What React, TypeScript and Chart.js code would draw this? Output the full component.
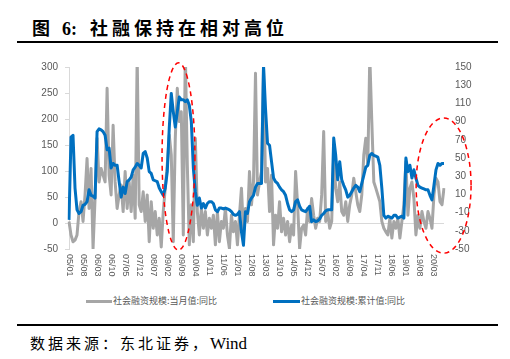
import React, { useEffect, useRef } from 'react';
import { Chart, registerables } from 'chart.js';

Chart.register(...registerables);

// Monthly categories 2005/01 .. 2020/08
const months: string[] = [];
for (let y = 2005; y <= 2020; y++) {
  for (let m = 1; m <= 12; m++) {
    if (y === 2020 && m > 8) break;
    months.push(`${String(y % 100).padStart(2, '0')}/${String(m).padStart(2, '0')}`);
  }
}

const xTickLabels = [
  '05/01', '05/08', '06/03', '06/10', '07/05', '07/12', '08/07', '09/02', '09/09',
  '10/04', '10/11', '11/06', '12/01', '12/08', '13/03', '13/10', '14/05', '14/12',
  '15/07', '16/02', '16/09', '17/04', '17/11', '18/06', '19/01', '19/08', '20/03',
];

// 社会融资规模:当月值:同比 (left axis)
const monthlyYoY = [
  3, -23, -36, -33, -23, 22, 41, 3, 54, 124, 28, 105,
  -49, 47, 163, 79, 105, 92, 79, 259, 92, 54, 188, 79,
  28, 54, 73, 22, 99, 28, 79, 22, 92, 9, 320, 35,
  22, 60, 3, 54, -36, 41, -10, 22, -23, 9, -46, 22,
  67, 112, 169, 131, -36, 163, 259, 195, 214, -23, 330, 112,
  -42, 35, -36, 163, 22, -23, 28, -10, 22, -23, 9, -10,
  15, -42, 22, -36, 3, -10, 28, -23, -49, 15, -17, 3,
  -42, 15, 67, -17, 28, 3, 99, 35, 79, 288, 54, 79,
  99, 300, 79, 105, 22, 92, -42, 15, -10, 41, -17, 9,
  -23, 3, -36, -4, -23, 99, 35, -49, -10, -4, -23, 28,
  3, 47, 15, -10, 9, 3, 54, 176, 3, 22, -10, 3,
  131, 67, 41, 79, 22, 15, 41, 3, 35, 54, 86, 60,
  35, 22, 54, 131, 163, 112, 320, 195, 79, 67, 54, 41,
  3, -10, -17, -23, 9, -29, 3, -10, 9, -29, 3, 35,
  118, 15, 67, 79, 47, -23, 15, -10, 22, 3, -10, 22,
  9, -10, 54, 86, 79, 41, 35, 67,
];

// 社会融资规模:累计值:同比 (right axis)
const cumulativeYoY = [
  -18, 73, 75, 17, -7, -11, -9, -2, -1, 2, 15, 9,
  8, 6, 79, 82, 81, 79, 75, 59, 61, 39, 44, 42,
  42, 24, 7, 18, 11, 24, 26, 29, 37, 40, 44, 42,
  39, 55, 57, 50, 35, 33, 26, 25, 24, 17, 13, 9,
  17, 35, 83, 121, 101, 84, 101, 117, 114, 114, 112, 114,
  108, 90, 39, 13, -2, 6, -5, 0, -5, 0, 2, 2,
  0, -7, -9, -5, -5, -6, -5, -6, -7, -9, -12, -13,
  -12, -9, -31, -46, -9, -11, 2, 6, 9, 18, 22, 22,
  22, 152, 104, 66, 64, 46, 28, 24, 22, 18, 15, 13,
  9, 0, -7, -9, -7, 2, 4, -3, -7, -8, -9, -6,
  -3, -20, -18, -20, -19, -17, -13, -11, -8, -7, -7, -7,
  72, 53, 26, 46, 26, 20, 15, 7, 9, 13, 17, 20,
  18, 13, 22, 31, 40, 42, 53, 55, 53, 52, 51, 42,
  17, -13, -16, -14, -15, -16, -13, -13, -16, -15, -14, -16,
  50, 35, 42, 28, 37, 28, 20, 18, 17, 16, 15, 15,
  9, 4, 20, 37, 44, 42, 44, 44,
];

const leftMin = -50, leftMax = 300, leftStep = 50;
const rightMin = -50, rightMax = 150, rightStep = 20;

// Highlight ellipses (month index centre / half width in months, left-axis top/bottom)
const highlights = [
  { center: 54.6, half: 8.2, top: 308, bottom: -52 },
  { center: 186.8, half: 13.7, top: 202, bottom: -58 },
];

const GRAY = '#a6a6a6';
const BLUE = '#0070c0';
const TEXT = '#595959';

const overlayPlugin = {
  id: 'overlay',
  afterDatasetsDraw(chart: any) {
    const { ctx, scales } = chart;
    const xs = scales.x, ys = scales.y;
    ctx.save();
    ctx.strokeStyle = '#ff0000';
    ctx.lineWidth = 1.5;
    ctx.setLineDash([5, 4]);
    for (const e of highlights) {
      const cx = xs.getPixelForValue(e.center);
      const rx = xs.getPixelForValue(e.center + e.half) - cx;
      const yt = ys.getPixelForValue(e.top);
      const yb = ys.getPixelForValue(e.bottom);
      ctx.beginPath();
      ctx.ellipse(cx, (yt + yb) / 2, rx, (yb - yt) / 2, 0, 0, Math.PI * 2);
      ctx.stroke();
    }
    ctx.restore();
  },
  afterDraw(chart: any) {
    const { ctx, scales, chartArea } = chart;
    const xs = scales.x;
    ctx.save();
    ctx.font = '9px "Liberation Sans", Arial, sans-serif';
    ctx.fillStyle = TEXT;
    ctx.textAlign = 'left';
    ctx.textBaseline = 'middle';
    for (const lbl of xTickLabels) {
      const idx = months.indexOf(lbl);
      if (idx < 0) continue;
      const px = xs.getPixelForValue(idx);
      ctx.save();
      ctx.translate(px, chartArea.bottom + 5);
      ctx.rotate(Math.PI / 2);
      ctx.fillText(lbl, 0, 0);
      ctx.restore();
    }
    ctx.restore();
  },
};

export default function App() {
  const ref = useRef<HTMLCanvasElement>(null);

  useEffect(() => {
    const chart = new Chart(ref.current as HTMLCanvasElement, {
      type: 'line',
      data: {
        labels: months,
        datasets: [
          {
            label: '社会融资规模:当月值:同比',
            data: monthlyYoY,
            yAxisID: 'y',
            borderColor: GRAY,
            backgroundColor: GRAY,
            borderWidth: 3,
            borderJoinStyle: 'round',
            pointRadius: 0,
            tension: 0,
            order: 1,
          },
          {
            label: '社会融资规模:累计值:同比',
            data: cumulativeYoY,
            yAxisID: 'y2',
            borderColor: BLUE,
            backgroundColor: BLUE,
            borderWidth: 3,
            borderJoinStyle: 'round',
            pointRadius: 0,
            tension: 0,
            order: 0,
          },
        ],
      },
      options: {
        animation: false,
        responsive: false,
        devicePixelRatio: 1,
        layout: { padding: { top: 67, left: 0, right: 0, bottom: 0 } },
        plugins: { legend: { display: false }, tooltip: { enabled: false } },
        scales: {
          x: {
            type: 'category',
            ticks: { display: false },
            grid: { display: false },
            border: { display: false },
            afterFit: (s: any) => { s.height = 41; },
          },
          y: {
            position: 'left',
            min: leftMin,
            max: leftMax,
            ticks: {
              stepSize: leftStep,
              color: TEXT,
              font: { family: '"Liberation Sans", Arial, sans-serif', size: 10 },
              padding: 7,
            },
            grid: {
              color: (c: any) => (c.tick && c.tick.value === 0 ? '#d9d9d9' : 'rgba(0,0,0,0)'),
              tickColor: '#d9d9d9',
              tickLength: 4,
            },
            border: { display: true, color: '#d9d9d9' },
            afterFit: (s: any) => { s.width = 69; },
          },
          y2: {
            position: 'right',
            min: rightMin,
            max: rightMax,
            ticks: {
              stepSize: rightStep,
              color: TEXT,
              font: { family: '"Liberation Sans", Arial, sans-serif', size: 10 },
              padding: 11,
            },
            grid: { drawOnChartArea: false, drawTicks: false },
            border: { display: false },
            afterFit: (s: any) => { s.width = 66; },
          },
        },
      },
      plugins: [overlayPlugin],
    } as any);
    return () => chart.destroy();
  }, []);

  return (
    <div style={{ position: 'absolute', left: 0, top: 0, width: 510, height: 359, background: '#fff', overflow: 'hidden' }}>
      <div
        style={{
          position: 'absolute', left: 32, top: 17, fontFamily: '"Noto Sans CJK SC", sans-serif',
          fontWeight: 700, fontSize: 18, lineHeight: '20px', color: '#000', whiteSpace: 'nowrap',
        }}
      >
        <span>图</span>
        <span style={{ marginLeft: 12, fontFamily: '"Liberation Serif", serif' }}>6:</span>
        <span style={{ marginLeft: 13, letterSpacing: 4 }}>社融保持在相对高位</span>
      </div>
      <div style={{ position: 'absolute', left: 17, top: 41, width: 481, height: 2, background: '#000' }} />
      <canvas ref={ref} width={510} height={290} style={{ position: 'absolute', left: 0, top: 0, width: 510, height: 290 }} />
      <div style={{ position: 'absolute', left: 86, top: 300, width: 26, height: 3, background: GRAY }} />
      <div style={{ position: 'absolute', left: 113, top: 295, fontFamily: '"Noto Sans CJK SC", sans-serif', fontSize: 9, lineHeight: '12px', color: TEXT, whiteSpace: 'nowrap' }}>
        社会融资规模:当月值:同比
      </div>
      <div style={{ position: 'absolute', left: 273, top: 300, width: 27, height: 3, background: BLUE }} />
      <div style={{ position: 'absolute', left: 301, top: 295, fontFamily: '"Noto Sans CJK SC", sans-serif', fontSize: 9, lineHeight: '12px', color: TEXT, whiteSpace: 'nowrap' }}>
        社会融资规模:累计值:同比
      </div>
      <div style={{ position: 'absolute', left: 17, top: 324, width: 481, height: 2, background: '#000' }} />
      <div
        style={{
          position: 'absolute', left: 30, top: 333, fontFamily: '"Noto Sans CJK SC", sans-serif',
          fontSize: 15, lineHeight: '20px', color: '#000', whiteSpace: 'nowrap', letterSpacing: 3,
        }}
      >
        数据来源：东北证券，<span style={{ fontFamily: '"Liberation Serif", serif', letterSpacing: 0, fontSize: 17 }}>Wind</span>
      </div>
    </div>
  );
}
